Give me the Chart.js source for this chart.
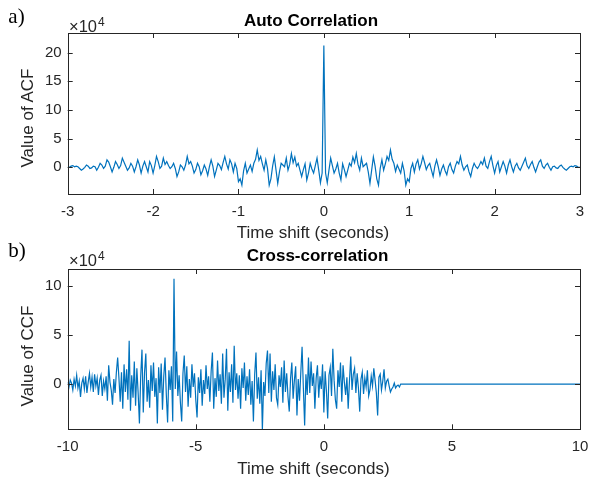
<!DOCTYPE html>
<html>
<head>
<meta charset="utf-8">
<script src="https://cdn.jsdelivr.net/npm/chart.js@4/dist/chart.umd.min.js"></script>
<style>
  body { margin: 0; background: #fff; }
  #wrap { position: relative; width: 589px; height: 481px; overflow: hidden;
          font-family: "Liberation Sans", Arial, sans-serif; color: #262626; }
  canvas { position: absolute; left: 0; }
  .lbl { position: absolute; white-space: nowrap; line-height: 1; transform: translate(-50%, -50%); }
  .ttl { font-weight: bold; font-size: 17px; color: #000; }
  .axl { font-size: 17px; }
  .ylab { transform: translate(-50%, -50%) rotate(-90deg); }
  .pan { font-family: "Liberation Serif", "Times New Roman", serif; font-size: 21px; color: #000; }
  .exp { position: absolute; font-size: 16.5px; line-height: 1; transform: translateY(-50%); white-space: nowrap; }
  .exp sup { font-size: 12px; vertical-align: 6px; margin-left: 1px; }
</style>
</head>
<body>
<div id="wrap">
  <canvas id="acf" width="589" height="240" style="top:0"></canvas>
  <canvas id="ccf" width="589" height="241" style="top:240px"></canvas>

  <div class="lbl pan" style="left:16.5px; top:15.5px">a)</div>
  <div class="lbl ttl" style="left:311px; top:20px">Auto Correlation</div>
  <div class="exp" style="left:69px; top:25px">&times;10<sup>4</sup></div>
  <div class="lbl axl ylab" style="left:27px; top:117.5px">Value of ACF</div>
  <div class="lbl axl" style="left:313px; top:231.5px">Time shift (seconds)</div>

  <div class="lbl pan" style="left:17px; top:249.5px">b)</div>
  <div class="lbl ttl" style="left:317.5px; top:255px">Cross-correlation</div>
  <div class="exp" style="left:69px; top:259px">&times;10<sup>4</sup></div>
  <div class="lbl axl ylab" style="left:27px; top:356px">Value of CCF</div>
  <div class="lbl axl" style="left:313.5px; top:468px">Time shift (seconds)</div>
</div>
<script>
// values are in units of 10^4
const acfLagStart = -3;
const acfLagStep = 0.02;
const acfValues = [
  0.0,
  0.0, 0.2, 0.3, 0.1, 0.2, 0.1, -0.2, -0.5, -0.3, 0.0,
  0.4, 0.2, -0.2, -0.1, 0.2, 0.1, -0.5, 0.0, 0.7, 0.4,
  -0.2, 0.2, 1.3, 0.9, 0.1, -0.8, 0.0, 1.0, 0.5, -0.2,
  0.3, 1.6, 0.9, 0.2, -0.5, -0.1, 0.7, 0.2, -0.8, 0.1,
  1.3, 0.4, -1.0, 0.2, 1.0, 0.1, -0.8, 1.0, 0.3, -1.0,
  0.3, 1.9, 1.0, -0.2, 0.2, 1.6, 0.5, 1.0, 0.3, -0.2,
  0.1, 0.7, -0.2, -1.6, -0.8, 0.4, 0.1, -0.5, 0.4, 1.9,
  0.6, 1.0, 0.2, -1.0, -0.4, 0.7, 0.1, -1.3, -0.6, 0.4,
  -0.3, -1.4, 0.1, 1.3, 0.2, -1.6, -0.5, 0.7, 0.3, -0.4,
  0.8, 1.9, 0.6, -0.3, 1.3, 0.6, -0.8, 0.7, -0.2, -2.5,
  -2.0, -3.1, -0.6, 0.7, -1.0, -0.3, 0.4, -0.7, 0.7, 1.4,
  3.0, 1.2, 1.9, 0.6, -0.5, 1.3, -0.2, -3.1, -2.0, 0.2,
  1.8, -0.5, -2.8, -0.8, 0.7, 0.4, 0.1, 1.6, -0.5, 0.5,
  2.4, 0.8, 1.8, 0.2, 0.7, -0.5, -1.6, -0.4, 0.6, -2.2,
  -1.0, 0.7, -0.3, -1.0, 0.3, 1.6, -0.5, -2.7, -1.0,
  21.2,
  -1.0, -2.7, -0.5, 1.6, 0.3, -1.0, -0.3, 0.7, -1.0,
  -2.2, 0.6, -0.4, -1.6, -0.5, 0.7, 0.2, 1.8, 0.8, 2.4,
  0.5, -0.5, 1.6, 0.1, 0.4, 0.7, -0.8, -2.8, -0.5, 1.8,
  0.2, -2.0, -3.1, -0.2, 1.3, -0.5, 0.6, 1.9, 1.2, 3.0,
  1.4, 0.7, -0.7, 0.4, -0.3, -1.0, 0.7, -0.6, -3.1, -2.0,
  -2.5, -0.2, 0.7, -0.8, 0.6, 1.3, -0.3, 0.6, 1.9, 0.8,
  -0.4, 0.3, 0.7, -0.5, -1.6, 0.2, 1.3, 0.1, -1.4, -0.3,
  0.4, -0.6, -1.3, 0.1, 0.7, -0.4, -1.0, 0.2, 1.0, 0.6,
  1.9, 0.4, -0.5, 0.1, 0.4, -0.8, -1.6, -0.2, 0.7, 0.1,
  -0.2, 0.3, 1.0, 0.5, 1.6, 0.2, -0.2, 1.0, 1.9, 0.3,
  -1.0, 0.3, 1.0, -0.8, 0.1, 1.0, 0.2, -1.0, 0.4, 1.3,
  0.1, -0.8, 0.2, 0.7, -0.1, -0.5, 0.2, 0.9, 1.6, 0.3,
  -0.2, 0.5, 1.0, 0.0, -0.8, 0.1, 0.9, 1.3, 0.2, -0.2,
  0.4, 0.7, 0.0, -0.5, 0.1, 0.2, -0.1, -0.2, 0.2, 0.4,
  0.0, -0.3, -0.5, -0.2, 0.1, 0.2, 0.1, 0.3, 0.2, 0.0,
  0.0
];
const acfXTicks = [-3, -2, -1, 0, 1, 2, 3];
const acfYTicks = [0, 5, 10, 15, 20];

const ccfLagStart = -10;
const ccfLagStep = 0.05;
const ccfValues = [
  0.2, -0.3, 0.4, 0.1, -0.6, 0.5, -0.2, 0.9, -0.4, 0.3, -1.3, 0.1, 0.6, -0.5, 0.8, -0.9, 0.2, 1.1, -0.3, 0.7,
  -0.8, 1.0, -0.2, 0.6, -1.1, 0.4, 0.9, -1.2, 0.3, -0.5, 0.8, -1.7, 1.9, 0.2, -0.6, -2.1, 0.5, -0.9, 1.2, 2.7,
  0.6, -1.8, 1.2, -2.5, 2.0, -0.8, 1.5, -1.6, 4.4, -2.7, 0.9, -1.4, 2.3, -2.2, 1.6, -0.9, -4.0, 0.8, 3.5, -2.9,
  1.2, 3.1, -1.8, 0.4, -2.4, 1.9, -0.7, 2.2, -1.3, 0.6, -4.0, 1.7, -0.9, 2.1, -2.6, 0.8, 2.7, -1.1, -3.9, 1.4,
  -0.6, 1.8, -3.8, 10.7, -0.5, 3.3, -1.2, 0.9, -1.9, -3.8, 1.1, 2.9, -0.8, 1.8, -2.3, 0.5, -1.4, 2.0, -0.3, 1.1,
  -1.6, -3.4, 0.7, -0.9, 1.5, -2.2, 0.4, -1.0, 1.9, -0.5, 0.8, -1.8, 1.3, 3.2, -2.5, 0.6, -1.3, 2.4, -0.7, 1.0,
  -2.0, 3.1, -1.4, 0.5, 3.6, -2.7, 1.2, -0.8, 2.0, -1.9, 3.9, -0.6, 1.1, -1.5, 0.9, -2.5, 1.6, -0.4, 2.2, -1.7,
  0.8, -1.1, 1.5, -2.1, 0.3, -3.8, 1.0, 3.2, -1.5, 0.7, -2.0, 1.4, -4.7, 0.2, -1.2, 2.1, 3.4, -0.9, 3.1, -1.8,
  1.3, -0.6, 2.0, -1.4, -2.1, 0.9, -0.3, 1.7, -1.9, 2.4, -0.8, 1.1, -1.3, -2.8, 0.6, 2.2, -1.5, 0.4, 1.8, -3.2,
  0.5, -1.7, 1.2, 3.8, -0.4, -4.2, 1.0, -1.1, 2.7, -0.9, 2.3, -0.2, 1.1, -2.5, 0.6, 1.9, -1.4, 0.8, -0.5, 2.0,
  -2.9, 1.3, -0.7, -3.5, 0.9, 1.7, -1.2, 3.6, 0.4, -1.6, -2.5, 1.4, -0.3, 2.2, -1.8, 1.9, 0.2, -1.1, 0.7, -2.5,
  0.3, 2.8, -0.6, 1.0, 1.6, -0.9, 1.1, -0.4, -2.8, 0.5, 1.2, -1.0, 0.6, -0.3, 1.4, -1.2, -0.6, 0.8, -0.2, 1.6,
  0.4, -0.9, -3.2, 0.7, 1.0, -0.6, 0.3, 1.5, -0.4, 0.3, 0.5, -0.2, -0.8, -0.5, -0.3, 0.1, -0.4, -0.2, -0.1, -0.3,
  0.0
];
// after ~3 s the CCF stays at zero up to the end of the lag range
const ccfTailLags = [10];
const ccfTailValues = [0];
const ccfXTicks = [-10, -5, 0, 5, 10];
const ccfYTicks = [0, 5, 10];

const lineColor = '#0072BD';
const axisColor = '#262626';

function toPoints(start, step, vals) {
    return vals.map((v, i) => ({ x: +(start + i * step).toFixed(3), y: v }));
}

// MATLAB style box with inward ticks on all four sides
const boxTicks = {
    id: 'boxTicks',
    afterDraw(chart) {
        const { ctx, chartArea: a, scales: { x, y } } = chart;
        const len = 5;
        ctx.save();
        ctx.strokeStyle = axisColor;
        ctx.lineWidth = 1;
        ctx.beginPath();
        x.ticks.forEach((t) => {
            const px = Math.round(x.getPixelForValue(t.value)) + 0.5;
            ctx.moveTo(px, a.bottom); ctx.lineTo(px, a.bottom - len);
            ctx.moveTo(px, a.top); ctx.lineTo(px, a.top + len);
        });
        y.ticks.forEach((t) => {
            const py = Math.round(y.getPixelForValue(t.value)) + 0.5;
            ctx.moveTo(a.left, py); ctx.lineTo(a.left + len, py);
            ctx.moveTo(a.right, py); ctx.lineTo(a.right - len, py);
        });
        ctx.stroke();
        ctx.strokeRect(Math.round(a.left) + 0.5, Math.round(a.top) + 0.5,
            Math.round(a.right - a.left), Math.round(a.bottom - a.top));
        ctx.restore();
    }
};

function makeChart(id, points, cfg) {
    const tickFont = { family: '"Liberation Sans", Arial, sans-serif', size: 15 };
    return new Chart(document.getElementById(id), {
        type: 'line',
        data: {
            datasets: [{
                data: points,
                borderColor: lineColor,
                borderWidth: 1.2,
                pointRadius: 0,
                tension: 0,
                fill: false
            }]
        },
        options: {
            responsive: false,
            animation: false,
            events: [],
            layout: { padding: { left: 0, right: 9, top: cfg.top, bottom: 0 } },
            plugins: { legend: { display: false }, tooltip: { enabled: false } },
            scales: {
                x: {
                    type: 'linear',
                    min: cfg.xTicks[0],
                    max: cfg.xTicks[cfg.xTicks.length - 1],
                    afterBuildTicks: (s) => { s.ticks = cfg.xTicks.map((v) => ({ value: v })); },
                    afterFit: (s) => { s.height = cfg.xh; s.paddingLeft = 0; s.paddingRight = 0; },
                    grid: { display: false, drawTicks: false },
                    border: { display: false },
                    ticks: { padding: cfg.xpad, font: tickFont, color: axisColor, maxRotation: 0, autoSkip: false,
                             callback: (v) => String(v) }
                },
                y: {
                    min: cfg.yMin,
                    max: cfg.yMax,
                    afterBuildTicks: (s) => { s.ticks = cfg.yTicks.map((v) => ({ value: v })); },
                    afterFit: (s) => { s.width = 67.7; s.paddingTop = 0; s.paddingBottom = 0; },
                    grid: { display: false, drawTicks: false },
                    border: { display: false },
                    ticks: { padding: 6, font: tickFont, color: axisColor, autoSkip: false,
                             callback: (v) => String(v) }
                }
            }
        },
        plugins: [boxTicks]
    });
}

makeChart('acf', toPoints(acfLagStart, acfLagStep, acfValues), {
    top: 33, xh: 46, xpad: 9,
    xTicks: acfXTicks, yTicks: acfYTicks, yMin: -4.65, yMax: 23.4
});

const ccfPoints = toPoints(ccfLagStart, ccfLagStep, ccfValues)
    .concat(ccfTailLags.map((x, i) => ({ x: x, y: ccfTailValues[i] })));
makeChart('ccf', ccfPoints, {
    top: 29, xh: 51.7, xpad: 8.5,
    xTicks: ccfXTicks, yTicks: ccfYTicks, yMin: -4.6, yMax: 11.7
});
</script>
</body>
</html>
